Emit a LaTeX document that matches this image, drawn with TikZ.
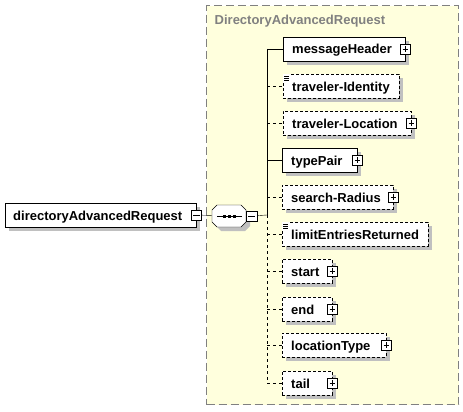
\documentclass[tikz,border=0pt]{standalone}
\usepackage{fontspec}
\setmainfont{Liberation Sans}
\usepackage{tikz}
\usetikzlibrary{positioning,shadows}
\definecolor{grpyellow}{RGB}{255,255,221}
\definecolor{shadowgray}{RGB}{192,192,192}
\definecolor{grpgray}{RGB}{128,128,128}

\begin{document}
\begin{tikzpicture}[x=1pt,y=-1pt,
	elem/.style={draw=black,fill=white,anchor=west,minimum height=24pt,inner xsep=9pt,inner ysep=0pt,
		align=left,text height=12pt,text depth=2pt,font=\bfseries\fontsize{13pt}{15pt}\selectfont,
		drop shadow={fill=shadowgray,opacity=1,shadow xshift=4pt,shadow yshift=-4pt}},
	optelem/.style={elem,dash pattern=on 3pt off 2pt},
	plusbox/.style={draw=black,fill=white,minimum size=9.5pt,inner sep=0pt,
		path picture={\draw ([xshift=2pt]path picture bounding box.west) -- ([xshift=-2pt]path picture bounding box.east);
			\draw ([yshift=-2pt]path picture bounding box.north) -- ([yshift=2pt]path picture bounding box.south);}},
	minusbox/.style={draw=black,fill=white,minimum size=10.5pt,inner sep=0pt,
		path picture={\draw ([xshift=2pt]path picture bounding box.west) -- ([xshift=-2pt]path picture bounding box.east);}},
	docicon/.style={fill=white,anchor=north west,minimum width=6pt,minimum height=7pt,inner sep=0pt,
		path picture={\foreach \dy in {2,4,6} \draw[line width=0.8pt] ([xshift=1pt,yshift=-\dy pt]path picture bounding box.north west) -- ++(5pt,0pt);}},
	conn/.style={draw=black},
	optconn/.style={draw=black,dash pattern=on 3pt off 3pt}]
	\useasboundingbox (0,0) rectangle (463,412);
	
	% group of the complex type
	\node[draw=grpgray,fill=grpyellow,line width=1.3pt,dash pattern=on 8pt off 4pt,anchor=north west,
		minimum width=252pt,minimum height=399pt] (grp) at (206,5) {};
	\node[anchor=base west,inner sep=0pt,text=grpgray,font=\bfseries\fontsize{13pt}{15pt}\selectfont] (grpT) at (214.5,24.5) {DirectoryAdvancedRequest};
	
	% root element and sequence
	\node[elem,inner xsep=8pt,text width=175pt] (root) at (5,215) {directoryAdvancedRequest};
	\node[minusbox] (rootM) at (root.east) {};
	\node[minimum width=34pt,minimum height=22pt,inner sep=0pt] (seq) at (229,216) {};
	\fill[shadowgray,shift={(233,220)}] (-17,-6) -- (-12,-11) -- (12,-11) -- (17,-6) -- (17,6) -- (12,11) -- (-12,11) -- (-17,6) -- cycle;
	\filldraw[fill=white,shift={(229,216)}] (-17,-6) -- (-12,-11) -- (12,-11) -- (17,-6) -- (17,6) -- (12,11) -- (-12,11) -- (-17,6) -- cycle;
	\draw ([xshift=-12pt]seq.center) -- ([xshift=13pt]seq.center);
	\foreach \dx in {-5,0,5}
		\fill ([xshift=\dx pt]seq.center) +(-1.5pt,-1.5pt) rectangle +(1.5pt,1.5pt);
	\node[minusbox,anchor=west] (seqM) at (seq.east) {};
	\coordinate (bus) at (267,215);
	
	% children
	\node[elem,text width=104pt] (mh) at (283,49) {messageHeader};
	\node[optelem,text width=98pt] (ti) at (283,86) {traveler-Identity};
	\node[optelem,text width=110pt] (tl) at (283,123) {traveler-Location};
	\node[elem,text width=57pt] (tp) at (282,160) {typePair};
	\node[optelem,text width=93pt] (sr) at (282,197) {search-Radius};
	\node[optelem,text width=128pt] (le) at (282,234) {limitEntriesReturned};
	\node[optelem,text width=32pt] (st) at (282,271) {start};
	\node[optelem,text width=32pt] (en) at (282,309) {end};
	\node[optelem,text width=86pt] (lt) at (282,345) {locationType};
	\node[optelem,text width=32pt] (ta) at (282,383) {tail};
	
	\node[plusbox] (mhP) at (mh.east) {};
	\node[plusbox] (tlP) at (tl.east) {};
	\node[plusbox] (tpP) at (tp.east) {};
	\node[plusbox] (srP) at (sr.east) {};
	\node[plusbox] (stP) at (st.east) {};
	\node[plusbox] (enP) at (en.east) {};
	\node[plusbox] (ltP) at (lt.east) {};
	\node[plusbox] (taP) at (ta.east) {};
	\node[docicon] (tiD) at (ti.north west) {};
	\node[docicon] (leD) at (le.north west) {};
	
	% connectors
	\path [conn] (rootM) edge (seq);
	\path [conn] (seqM) edge (bus);
	\path [conn] (bus |- mh.west) edge (bus);
	\path [optconn] (bus) edge (bus |- ta.west);
	
	\path [conn] (bus |- mh.west) edge (mh);
	\path [optconn] (bus |- ti.west) edge (ti);
	\path [optconn] (bus |- tl.west) edge (tl);
	\path [conn] (bus |- tp.west) edge (tp);
	\path [optconn] (bus |- sr.west) edge (sr);
	\path [optconn] (bus |- le.west) edge (le);
	\path [optconn] (bus |- st.west) edge (st);
	\path [optconn] (bus |- en.west) edge (en);
	\path [optconn] (bus |- lt.west) edge (lt);
	\path [optconn] (bus |- ta.west) edge (ta);
\end{tikzpicture}
\end{document}
